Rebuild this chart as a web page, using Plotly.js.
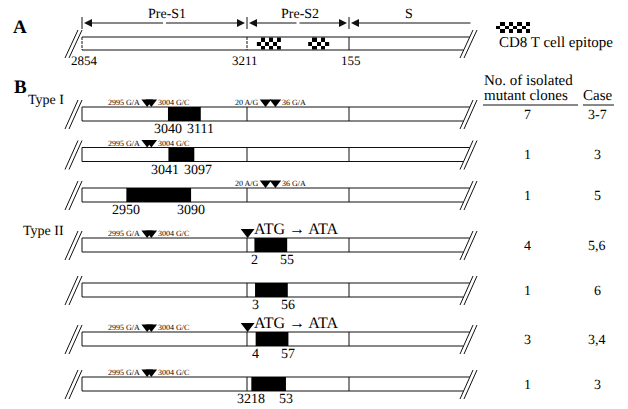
<!DOCTYPE html>
<html><head><meta charset="utf-8">
<script src="https://cdn.plot.ly/plotly-3.0.1.min.js"></script>
<style>html,body{margin:0;padding:0;background:#fff} svg text{text-rendering:geometricPrecision}</style>
</head><body><div id="chart" style="width:628px;height:409px"></div>
<script>
// ---------------- data ----------------
const segmentNames = ['Pre-S1', 'Pre-S2', 'S'];
const boundaryNt = [2854, 3211, 155];
const genomeLength = 3221;
const epitopeStart = [6, 89];
const epitopeEnd = [45, 123];
const epitopeLegend = 'CD8 T cell epitope';
const rowTypes = ['Type I', '', '', 'Type II', '', '', ''];
const deletionStart = [3040, 3041, 2950, 2, 3, 4, 3218];
const deletionEnd = [3111, 3097, 3090, 55, 56, 57, 53];
const hasPreS1Mut = [1, 1, 0, 1, 0, 1, 1];
const hasPreS2Mut = [1, 0, 1, 0, 0, 0, 0];
const hasStartCodonMut = [0, 0, 0, 1, 0, 1, 0];
const preS1MutPos = [2995, 3004];
const preS1MutLabel = ['2995 G/A', '3004 G/C'];
const preS2MutPos = [20, 36];
const preS2MutLabel = ['20 A/G', '36 G/A'];
const startCodonPos = 3212;
const startCodonLabel = 'ATG \u2192 ATA';
const cloneCounts = ['7', '1', '1', '4', '1', '3', '1'];
const caseLabels = ['3-7', '3', '5', '5,6', '6', '3,4', '3'];
const headerCount = ['No. of isolated', 'mutant clones'];
const headerCase = 'Case';
const panelLabels = ['A', 'B'];

// ---------------- layout geometry ----------------
const W = 628, H = 409;
const SEG = [82, 247, 349, 472];           // pixel edges of Pre-S1 | Pre-S2 | S(truncated)
const BAR_A = {top: 37, h: 13};
const ROW = {start: 107, h: 14, pitch: [40.5, 45], gap: 50, labelRoom: 4};
const ARROW_Y = 23;
const COL_COUNT = 527, COL_CASE = 597;
const FONT = 'Liberation Serif, Times New Roman, serif';
const INK = '#111';
const LABEL_PX = 14, LABEL_CHAR_W = 7;

// row tops from group structure (extra room above rows carrying the start-codon label)
const rowTop = [];
let grp = -1;
for (let i = 0; i < rowTypes.length; i++) {
  if (rowTypes[i]) { grp++; rowTop.push(grp === 0 ? ROW.start : rowTop[i - 1] + ROW.gap); }
  else rowTop.push(rowTop[i - 1] + ROW.pitch[grp] + (hasStartCodonMut[i] ? ROW.labelRoom : 0));
}

const x2Range = [boundaryNt[1] - genomeLength, boundaryNt[2]];
const pxPerNt = {x: (SEG[1] - SEG[0]) / (boundaryNt[1] - boundaryNt[0]),
                 x2: (SEG[2] - SEG[1]) / (x2Range[1] - x2Range[0])};
const x3Range = [boundaryNt[2], boundaryNt[2] + (SEG[3] - SEG[2]) / pxPerNt.x2];

function ntRef(p) {
  if (p >= boundaryNt[0] && p <= boundaryNt[1]) return {xref: 'x', x: p};
  const q = p > boundaryNt[1] ? p - genomeLength : p;
  if (q <= boundaryNt[2]) return {xref: 'x2', x: q};
  return {xref: 'x3', x: q};
}

const shapes = [];
const annotations = [];
const traces = [];

function line(x0, y0, x1, y1, extra) {
  shapes.push(Object.assign({type: 'line', xref: 'x4', yref: 'y', x0, y0, x1, y1,
    line: {color: INK, width: 1}}, extra || {}));
}
function text(t, xref, x, y, size, opts) {
  annotations.push(Object.assign({text: t, xref, yref: 'y', x, y, showarrow: false,
    font: {family: FONT, size, color: '#000'}, xanchor: 'center', yanchor: 'middle'}, opts || {}));
}

function drawBar(top, h, dashed) {
  const bot = top + h, up = 7, dn = 8, dx = 13;
  const span = h + up + dn;
  const rx = [460, 464], lx = [65, 69];
  const topEnd = rx[0] + dx * (h + dn) / span, botEnd = rx[0] + dx * dn / span;
  line(SEG[0], top, topEnd, top);
  line(SEG[0], bot, botEnd, bot);
  for (let k = 0; k < 3; k++) {
    line(SEG[k], top, SEG[k], bot, dashed && k < 2 ? {line: {color: INK, width: 1, dash: '3px,1px'}} : null);
  }
  for (const x0 of lx.concat(rx)) line(x0, bot + dn, x0 + dx, top - up);
}

// ---------------- panel A ----------------
const boldFont = {family: FONT, size: 19, color: '#000', weight: 'bold'};
text(panelLabels[0], 'x4', 20, 27, 19, {font: boldFont});
text(panelLabels[1], 'x4', 20, 87, 19, {font: boldFont});

function arrow(xref, x, ax) {
  annotations.push({text: '', xref, yref: 'y', x, y: ARROW_Y, ax, ay: 0, axref: 'pixel', ayref: 'pixel',
    showarrow: true, arrowhead: 2, arrowsize: 1.6, arrowwidth: 1, arrowcolor: INK, standoff: 2});
}
arrow('x', boundaryNt[0], (SEG[1] - SEG[0]) / 2);
arrow('x', boundaryNt[1], -(SEG[1] - SEG[0]) / 2);
arrow('x2', x2Range[0], (SEG[2] - SEG[1]) / 2);
arrow('x2', x2Range[1], -(SEG[2] - SEG[1]) / 2);
arrow('x3', x3Range[0], SEG[3] - SEG[2]);
for (let k = 0; k < 3; k++) line(SEG[k], ARROW_Y - 6, SEG[k], ARROW_Y + 6);
for (let k = 0; k < 3; k++) text(segmentNames[k], 'x4', (SEG[k] + SEG[k + 1]) / 2 + (k === 2 ? -2 : 2), 14, 14);

drawBar(BAR_A.top, BAR_A.h, true);
const bLabY = BAR_A.top + BAR_A.h + 10;
boundaryNt.forEach((p, k) => { const r = ntRef(p); text(String(p), r.xref, r.x, bLabY, 13, {xshift: k === 1 ? -2 : 2}); });

function checker(xref, x0, x1, y0, y1, cols, rows) {
  const xe = [], ye = [], z = [];
  for (let c = 0; c <= cols; c++) xe.push(x0 + (x1 - x0) * c / cols);
  for (let r = 0; r <= rows; r++) ye.push(y0 + (y1 - y0) * r / rows);
  for (let r = 0; r < rows; r++) { const row = []; for (let c = 0; c < cols; c++) row.push((r + c) % 2); z.push(row); }
  traces.push({type: 'heatmap', xaxis: xref, yaxis: 'y', x: xe, y: ye, z,
    colorscale: [[0, '#ffffff'], [1, '#000000']], zmin: 0, zmax: 1, showscale: false, hoverinfo: 'skip'});
}
epitopeStart.forEach((s, k) => {
  const a = ntRef(s), b = ntRef(epitopeEnd[k]);
  const cols = Math.max(2, Math.round((b.x - a.x) * pxPerNt[a.xref] / 4.3));
  checker(a.xref, a.x, b.x, BAR_A.top + 0.5, BAR_A.top + BAR_A.h - 0.5, cols, 3);
});
checker('x4', 496, 530, 22, 33, 8, 3);
text(epitopeLegend, 'x4', 497, 43, 15, {xanchor: 'left'});

// headers
text(headerCount[0], 'x4', 483, 81, 15, {xanchor: 'left', borderpad: 0});
text(headerCount[1], 'x4', 483, 96, 15, {xanchor: 'left', borderpad: 0});
text(headerCase, 'x4', 598, 96, 15, {borderpad: 0});
line(483, 105, 578, 105);
line(583, 105, 614, 105);

// ---------------- panel B ----------------
const tri = {x: [], x2: []};
const triY = {x: [], x2: []};
const startTri = {x: [], y: []};
const TRI = 10;
rowTop.forEach((top, i) => {
  const bot = top + ROW.h, mid = top + ROW.h / 2;
  drawBar(top, ROW.h, false);
  if (rowTypes[i]) text(rowTypes[i], 'x4', 66, top - 7, 14, {xanchor: 'right'});
  // deletion block
  const a = ntRef(deletionStart[i]), b = ntRef(deletionEnd[i]);
  shapes.push({type: 'rect', xref: a.xref, yref: 'y', x0: a.x, x1: b.x, y0: top, y1: bot,
    fillcolor: '#000', line: {width: 0}});
  // keep end labels from colliding when the block is narrow
  const widthPx = (b.x - a.x) * pxPerNt[a.xref];
  const need = (String(deletionStart[i]).length + String(deletionEnd[i]).length) * LABEL_CHAR_W / 2 + 5;
  const push = Math.max(0, (need - widthPx) / 2);
  const labY = bot + 8.5;
  text(String(deletionStart[i]), a.xref, a.x, labY, LABEL_PX, {xshift: -push, borderpad: 0});
  text(String(deletionEnd[i]), b.xref, b.x, labY, LABEL_PX, {xshift: push, borderpad: 0});
  // point mutations
  [[hasPreS1Mut, preS1MutPos, preS1MutLabel], [hasPreS2Mut, preS2MutPos, preS2MutLabel]].forEach(([flag, pos, lab]) => {
    if (!flag[i]) return;
    pos.forEach(p => { const r = ntRef(p); tri[r.xref].push(r.x); triY[r.xref].push(top - TRI / 2); });
    const r0 = ntRef(pos[0]), r1 = ntRef(pos[1]);
    text(lab[0], r0.xref, r0.x, top + 2, 8, {xanchor: 'right', yanchor: 'bottom', xshift: -5});
    text(lab[1], r1.xref, r1.x, top + 2, 8, {xanchor: 'left', yanchor: 'bottom', xshift: 5});
  });
  if (hasStartCodonMut[i]) {
    const r = ntRef(startCodonPos);
    startTri.x.push(r.x); startTri.y.push(top - 6);
    text(startCodonLabel, r.xref, r.x, top - 9, 16, {xanchor: 'left', xshift: 5, borderpad: 0});
  }
  text(cloneCounts[i], 'x4', COL_COUNT, mid + 1, 14, {borderpad: 0});
  text(caseLabels[i], 'x4', COL_CASE, mid + 1, 14, {borderpad: 0});
});

['x', 'x2'].forEach(ax => {
  traces.push({type: 'scatter', mode: 'markers', xaxis: ax, yaxis: 'y', x: tri[ax], y: triY[ax],
    marker: {symbol: 'triangle-down', size: TRI, color: '#000', line: {width: 0}}, cliponaxis: false, hoverinfo: 'skip'});
});
traces.push({type: 'scatter', mode: 'markers', xaxis: 'x2', yaxis: 'y', x: startTri.x, y: startTri.y,
  marker: {symbol: 'triangle-down', size: 12, color: '#000', line: {width: 0}}, cliponaxis: false, hoverinfo: 'skip'});

const hidden = {visible: false, showgrid: false, zeroline: false, fixedrange: true, anchor: 'y'};
const layout = {
  width: W, height: H, autosize: false, showlegend: false,
  margin: {l: 0, r: 0, t: 0, b: 0, pad: 0},
  paper_bgcolor: '#fff', plot_bgcolor: 'rgba(0,0,0,0)',
  xaxis: Object.assign({}, hidden, {domain: [SEG[0] / W, SEG[1] / W], range: [boundaryNt[0], boundaryNt[1]]}),
  xaxis2: Object.assign({}, hidden, {domain: [SEG[1] / W, SEG[2] / W], range: x2Range}),
  xaxis3: Object.assign({}, hidden, {domain: [SEG[2] / W, SEG[3] / W], range: x3Range}),
  xaxis4: Object.assign({}, hidden, {domain: [0, 1], range: [0, W]}),
  yaxis: {visible: false, showgrid: false, zeroline: false, fixedrange: true, domain: [0, 1], range: [H, 0]},
  shapes, annotations
};
Plotly.newPlot('chart', traces, layout, {staticPlot: true, displayModeBar: false});
</script></body></html>
